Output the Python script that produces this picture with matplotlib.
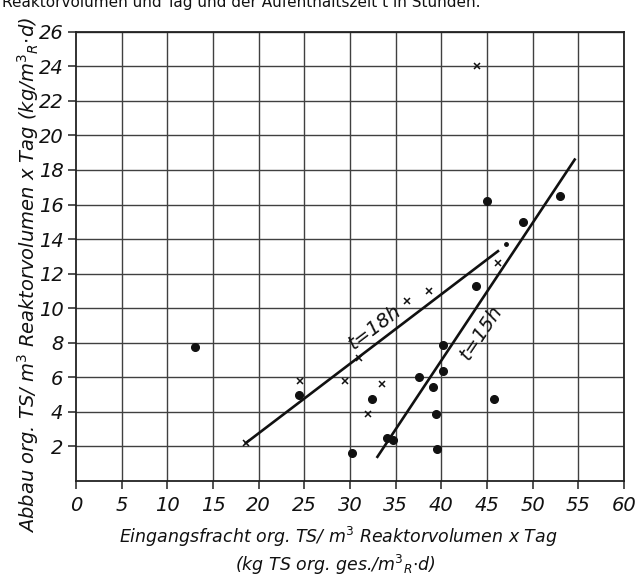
import matplotlib
matplotlib.use('Agg')
import matplotlib.pyplot as plt

# crosses: t = 18 h, dots: t = 15 h
cross_x = [18.6, 24.5, 29.4, 31.0, 32.0, 33.5, 36.2, 38.7, 43.9, 46.2]
cross_y = [2.2, 5.8, 5.8, 7.1, 3.9, 5.6, 10.4, 11.0, 24.0, 12.6]
dot_x = [13.0, 24.4, 30.2, 32.4, 34.0, 34.7, 37.5, 39.1, 39.4, 39.5, 40.2, 40.2, 43.8, 45.0, 45.8, 48.9, 53.0]
dot_y = [7.75, 4.95, 1.65, 4.75, 2.5, 2.4, 6.0, 5.45, 3.9, 1.83, 7.85, 6.35, 11.3, 16.2, 4.75, 15.0, 16.5]
small_x = [47.05]
small_y = [13.7]

line18_x = [18.6, 46.2]
line18_y = [2.2, 13.3]
line15_x = [33.0, 54.6]
line15_y = [1.4, 18.6]

xticks = list(range(0, 61, 5))
yticks = list(range(2, 27, 2))

fam = ['DejaVu Sans']
fig = plt.figure(figsize=(6.35, 5.76), dpi=100)
ax = fig.add_axes([0.1197, 0.1649, 0.8630, 0.7801])

ax.set_xlim(0, 60)
ax.set_ylim(0, 26)
for x in xticks[1:]:
    ax.axvline(x, color='#404040', lw=1.0, zorder=1)
for y in yticks:
    ax.axhline(y, color='#404040', lw=1.0, zorder=1)

ax.plot(line18_x, line18_y, color='#111111', lw=1.9, zorder=3)
ax.plot(line15_x, line15_y, color='#111111', lw=1.9, zorder=3)
ax.plot(cross_x, cross_y, 'x', color='#111111', ms=5, mew=1.1, zorder=4)
ax.plot(dot_x, dot_y, 'o', color='#111111', ms=5.5, zorder=4)
ax.plot(small_x, small_y, 'o', color='#111111', ms=2.5, zorder=4)

ax.text(32.7, 8.9, 't=18h', rotation=37, ha='center', va='center',
        fontsize=14, style='italic', family=fam, color='#111111', zorder=5)
ax.text(44.4, 8.6, 't=15h', rotation=56, ha='center', va='center',
        fontsize=14, style='italic', family=fam, color='#111111', zorder=5)

for s in ax.spines.values():
    s.set_color('#222222')
    s.set_linewidth(1.3)

ax.set_xticks(xticks)
ax.set_yticks(yticks)
ax.tick_params(axis='both', direction='out', length=6, width=1.1, color='#222222',
               labelsize=14, labelcolor='#111111')
ax.tick_params(axis='x', pad=5)
ax.tick_params(axis='y', pad=3)
for lab in ax.get_xticklabels() + ax.get_yticklabels():
    lab.set_fontstyle('italic')

fig.text(338 / 635, 1 - 537 / 576, r'Eingangsfracht org. TS/ m$^3$ Reaktorvolumen x Tag',
         ha='center', va='center', fontsize=12.5, style='italic', family=fam, color='#111111')
fig.text(335 / 635, 1 - 565 / 576, r'(kg TS org. ges./m$^3$$_R$$\cdot$d)',
         ha='center', va='center', fontsize=12.5, style='italic', family=fam, color='#111111')
fig.text(28 / 635, 1 - 275 / 576,
         r'Abbau org. TS/ m$^3$ Reaktorvolumen x Tag (kg/m$^3$$_R$$\cdot$d)',
         rotation=90, ha='center', va='center', fontsize=14, style='italic', family=fam,
         color='#111111')
fig.text(0.003, 0.996, 'Reaktorvolumen und Tag und der Aufenthaltszeit t in Stunden.',
         ha='left', va='center', fontsize=11, family=fam, color='#111111')

fig.savefig('out.png', dpi=100, facecolor='white')
